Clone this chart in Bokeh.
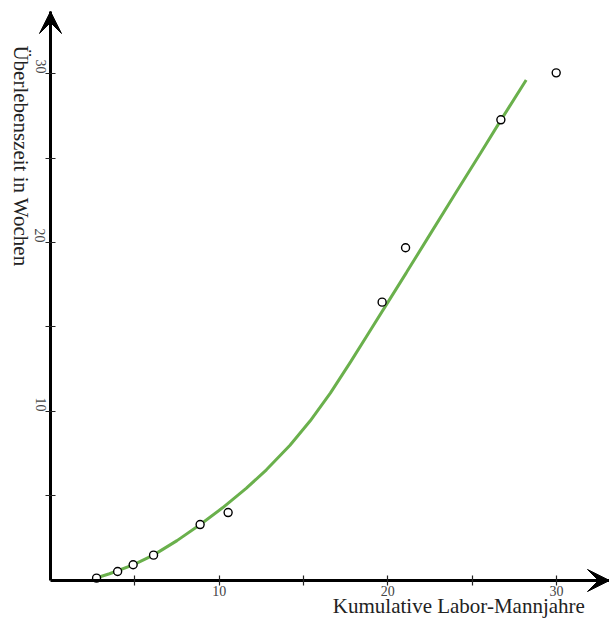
import math
from bokeh.plotting import figure
from bokeh.models import Range1d, Arrow, VeeHead, Label, FixedTicker, LinearAxis
from bokeh.embed import file_html
from bokeh.resources import INLINE

# Observed data points
obs_x = [2.73, 3.98, 4.90, 6.11, 8.87, 10.53, 19.66, 21.05, 26.70, 29.98]
obs_y = [0.14, 0.53, 0.93, 1.50, 3.31, 4.02, 16.47, 19.69, 27.26, 30.04]

# Fitted curve
fit_x = [2.7, 3.5, 4.9, 6.1, 7.5, 8.9, 10.2, 11.6, 12.8, 14.2, 15.4, 16.6,
         17.8, 18.9, 20.1, 21.1, 22.5, 24.0, 25.5, 26.6, 28.2]
fit_y = [0.15, 0.40, 0.92, 1.50, 2.36, 3.33, 4.30, 5.45, 6.55, 8.00, 9.45, 11.10,
         12.95, 14.70, 16.62, 18.22, 20.48, 22.90, 25.30, 27.08, 29.62]

ticks = [5, 10, 15, 20, 25, 30]
tick_labels = {5: "", 10: "10", 15: "", 20: "20", 25: "", 30: "30"}
x_title = "Kumulative Labor-Mannjahre"
y_title = "Überlebenszeit in Wochen"

X_MIN, X_MAX = -2.964, 33.14
Y_MIN, Y_MAX = -2.249, 34.32
X_END = 33.14
Y_END = 33.67

p = figure(width=609, height=618, output_backend="svg", toolbar_location=None,
           x_range=Range1d(X_MIN, X_MAX), y_range=Range1d(Y_MIN, Y_MAX),
           x_axis_location=None, y_axis_location=None,
           min_border=0)
p.grid.visible = False
p.outline_line_color = None
p.background_fill_color = "white"
p.border_fill_color = "white"

xax = LinearAxis(fixed_location=0, bounds=(0, X_END))
yax = LinearAxis(fixed_location=0, bounds=(0, Y_END))
p.add_layout(xax, "below")
p.add_layout(yax, "left")

for ax in (xax, yax):
    ax.ticker = FixedTicker(ticks=ticks)
    ax.major_label_overrides = tick_labels
    ax.axis_line_width = 3
    ax.axis_line_color = "black"
    ax.major_tick_in = 5
    ax.major_tick_out = 5
    ax.major_tick_line_width = 1.2
    ax.major_tick_line_color = "#222222"
    ax.minor_tick_line_color = None
    ax.major_label_text_font = "Liberation Serif"
    ax.major_label_text_font_size = "14px"
    ax.major_label_text_color = "#444444"

xax.major_label_standoff = 1
yax.major_label_standoff = 5
yax.major_label_orientation = -math.pi / 2

# Axis arrows
p.add_layout(Arrow(end=VeeHead(size=22, fill_color="black", line_color="black"),
                   x_start=0, y_start=31.0, x_end=0, y_end=Y_END,
                   line_width=3, line_color="black"))
p.add_layout(Arrow(end=VeeHead(size=22, fill_color="black", line_color="black"),
                   x_start=30.5, y_start=0, x_end=X_END, y_end=0,
                   line_width=3, line_color="black"))

# Fitted curve
p.line(fit_x, fit_y, line_color="#6ab04c", line_width=3)

# Observations
p.scatter(obs_x, obs_y, size=8, marker="circle", fill_color="white",
          line_color="black", line_width=1.4)

# Axis titles
p.add_layout(Label(x=31.68, y=-1.51, text=x_title, text_align="right",
                   text_baseline="alphabetic", text_font="Liberation Serif",
                   text_font_size="21px", text_color="#222222"))
p.add_layout(Label(x=-1.72, y=31.66, text=y_title, text_align="left",
                   text_baseline="alphabetic", angle=-math.pi / 2,
                   text_font="Liberation Serif",
                   text_font_size="21px", text_color="#222222"))

open("out.html", "w").write(file_html(p, INLINE))
